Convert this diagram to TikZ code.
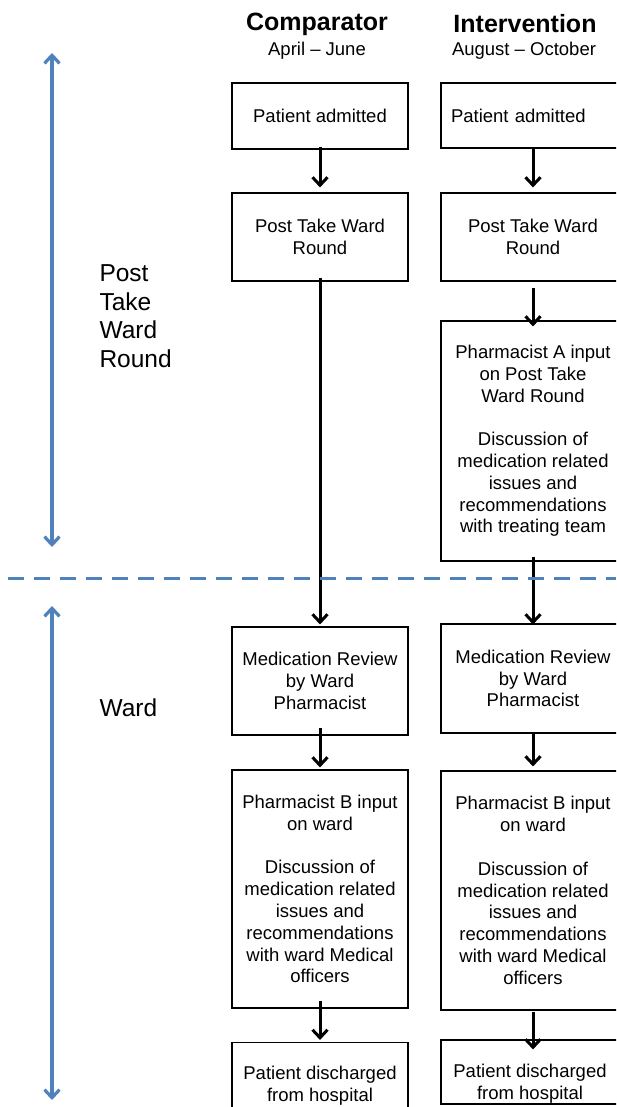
\documentclass[tikz,border=0pt]{standalone}
\usepackage{fontspec}
\setmainfont{Liberation Sans}
\usepackage{xcolor}
\usetikzlibrary{arrows.meta}
\definecolor{phaseblue}{RGB}{79,129,189}
\tikzset{
    box/.style={draw, line width=1.1pt, align=center, inner sep=0pt, font=\fontsize{18.5}{21.8}\selectfont},
    cbox/.style={box, minimum width=176pt},
    ibox/.style={box, minimum width=184pt},
    flow/.style={line width=3pt, -{Straight Barb[length=8pt,width=15pt]}},
    phase/.style={draw=phaseblue, line width=3.2pt, {Straight Barb[length=8pt,width=15pt]}-{Straight Barb[length=8pt,width=15pt]}},
    phasetext/.style={anchor=west, align=left, font=\fontsize{24.5}{28.5}\selectfont}
}
\begin{document}
\begin{tikzpicture}[x=1pt, y=-1pt]
        %FRAME
        \useasboundingbox (0,0) rectangle (616,1107);
        \clip (0,0) rectangle (616,1107);
        %HEADINGS
        \node[font=\fontsize{25}{28}\selectfont\bfseries] (hC) at (317,24) {Comparator};
        \node[font=\fontsize{18.5}{21.8}\selectfont] (sC) at (317,51) {April – June};
        \node[font=\fontsize{25}{28}\selectfont\bfseries] (hI) at (525,24) {Intervention};
        \node[font=\fontsize{18.5}{21.8}\selectfont] (sI) at (524,51) {August – October};
        %COMPARATOR
        \node[cbox, minimum height=66pt] (cAdm) at (320,116) {Patient admitted};
        \node[cbox, minimum height=88pt] (cPost) at (320,237) {Post Take Ward\\Round};
        \node[cbox, minimum height=108pt] (cRev) at (320,681) {Medication Review\\by Ward\\Pharmacist};
        \node[cbox, minimum height=238pt] (cPhB) at (320,889) {Pharmacist B input\\on ward\\[21.8pt]Discussion of\\medication related\\issues and\\recommendations\\with ward Medical\\officers};
        \node[cbox, minimum height=87pt] (cDis) at (320,1086) {Patient discharged\\from hospital};
        %INTERVENTION
        \node[ibox, minimum height=65pt, text width=164pt, inner xsep=10pt, align=left] (iAdm) at (533,115.5) {Patient admitted};
        \node[ibox, minimum height=88pt] (iPost) at (533,237) {Post Take Ward\\Round};
        \node[ibox, minimum height=240pt] (iPhA) at (533,441) {Pharmacist A input\\on Post Take\\Ward Round\\[21.8pt]Discussion of\\medication related\\issues and\\recommendations\\with treating team};
        \node[ibox, minimum height=109pt] (iRev) at (533,678.5) {Medication Review\\by Ward\\Pharmacist};
        \node[ibox, minimum height=239pt] (iPhB) at (533,890.5) {Pharmacist B input\\on ward\\[21.8pt]Discussion of\\medication related\\issues and\\recommendations\\with ward Medical\\officers};
        \node[ibox, minimum height=64pt] (iDis) at (533,1072) {};
        \node[box, draw=none] (iDisT) at (530,1084) {Patient discharged\\from hospital};
        %ARROWS
        \draw[flow, shorten <=-3pt, shorten >=5pt] (cAdm.south) -- (cPost.north);
        \draw[flow, shorten <=-4pt, shorten >=2pt] (cPost.south) -- (cRev.north);
        \draw[flow, shorten <=-8pt, shorten >=2pt] (cRev.south) -- (cPhB.north);
        \draw[flow, shorten <=-8pt, shorten >=2pt] (cPhB.south) -- (cDis.north);
        \draw[flow, shorten <=-2pt, shorten >=5pt] (iAdm.south) -- (iPost.north);
        \draw[flow, shorten <=6pt, shorten >=-6pt] (iPost.south) -- (iPhA.north);
        \draw[flow, shorten <=-5pt, shorten >=-1pt] (iPhA.south) -- (iRev.north);
        \draw[flow, shorten >=4pt] (iRev.south) -- (iPhB.north);
        \draw[flow, shorten <=1pt, shorten >=-10pt] (iPhB.south) -- (iDis.north);
        %PHASES
        \coordinate (pTop) at (52,53);
        \coordinate (pMid) at (52,547);
        \coordinate (wTop) at (52,606);
        \coordinate (wBot) at (52,1100);
        \draw[phase] (pTop) -- (pMid);
        \draw[phase] (wTop) -- (wBot);
        \node[phasetext] (lPost) at (96,316) {Post\\Take\\Ward\\Round};
        \node[phasetext] (lWard) at (96,708) {Ward};
        %DIVIDER
        \coordinate (dL) at (8,578);
        \coordinate (dR) at (616,578);
        \draw[phaseblue, line width=3pt, dash pattern=on 16pt off 10pt] (dL) -- (dR);
\end{tikzpicture}
\end{document}
